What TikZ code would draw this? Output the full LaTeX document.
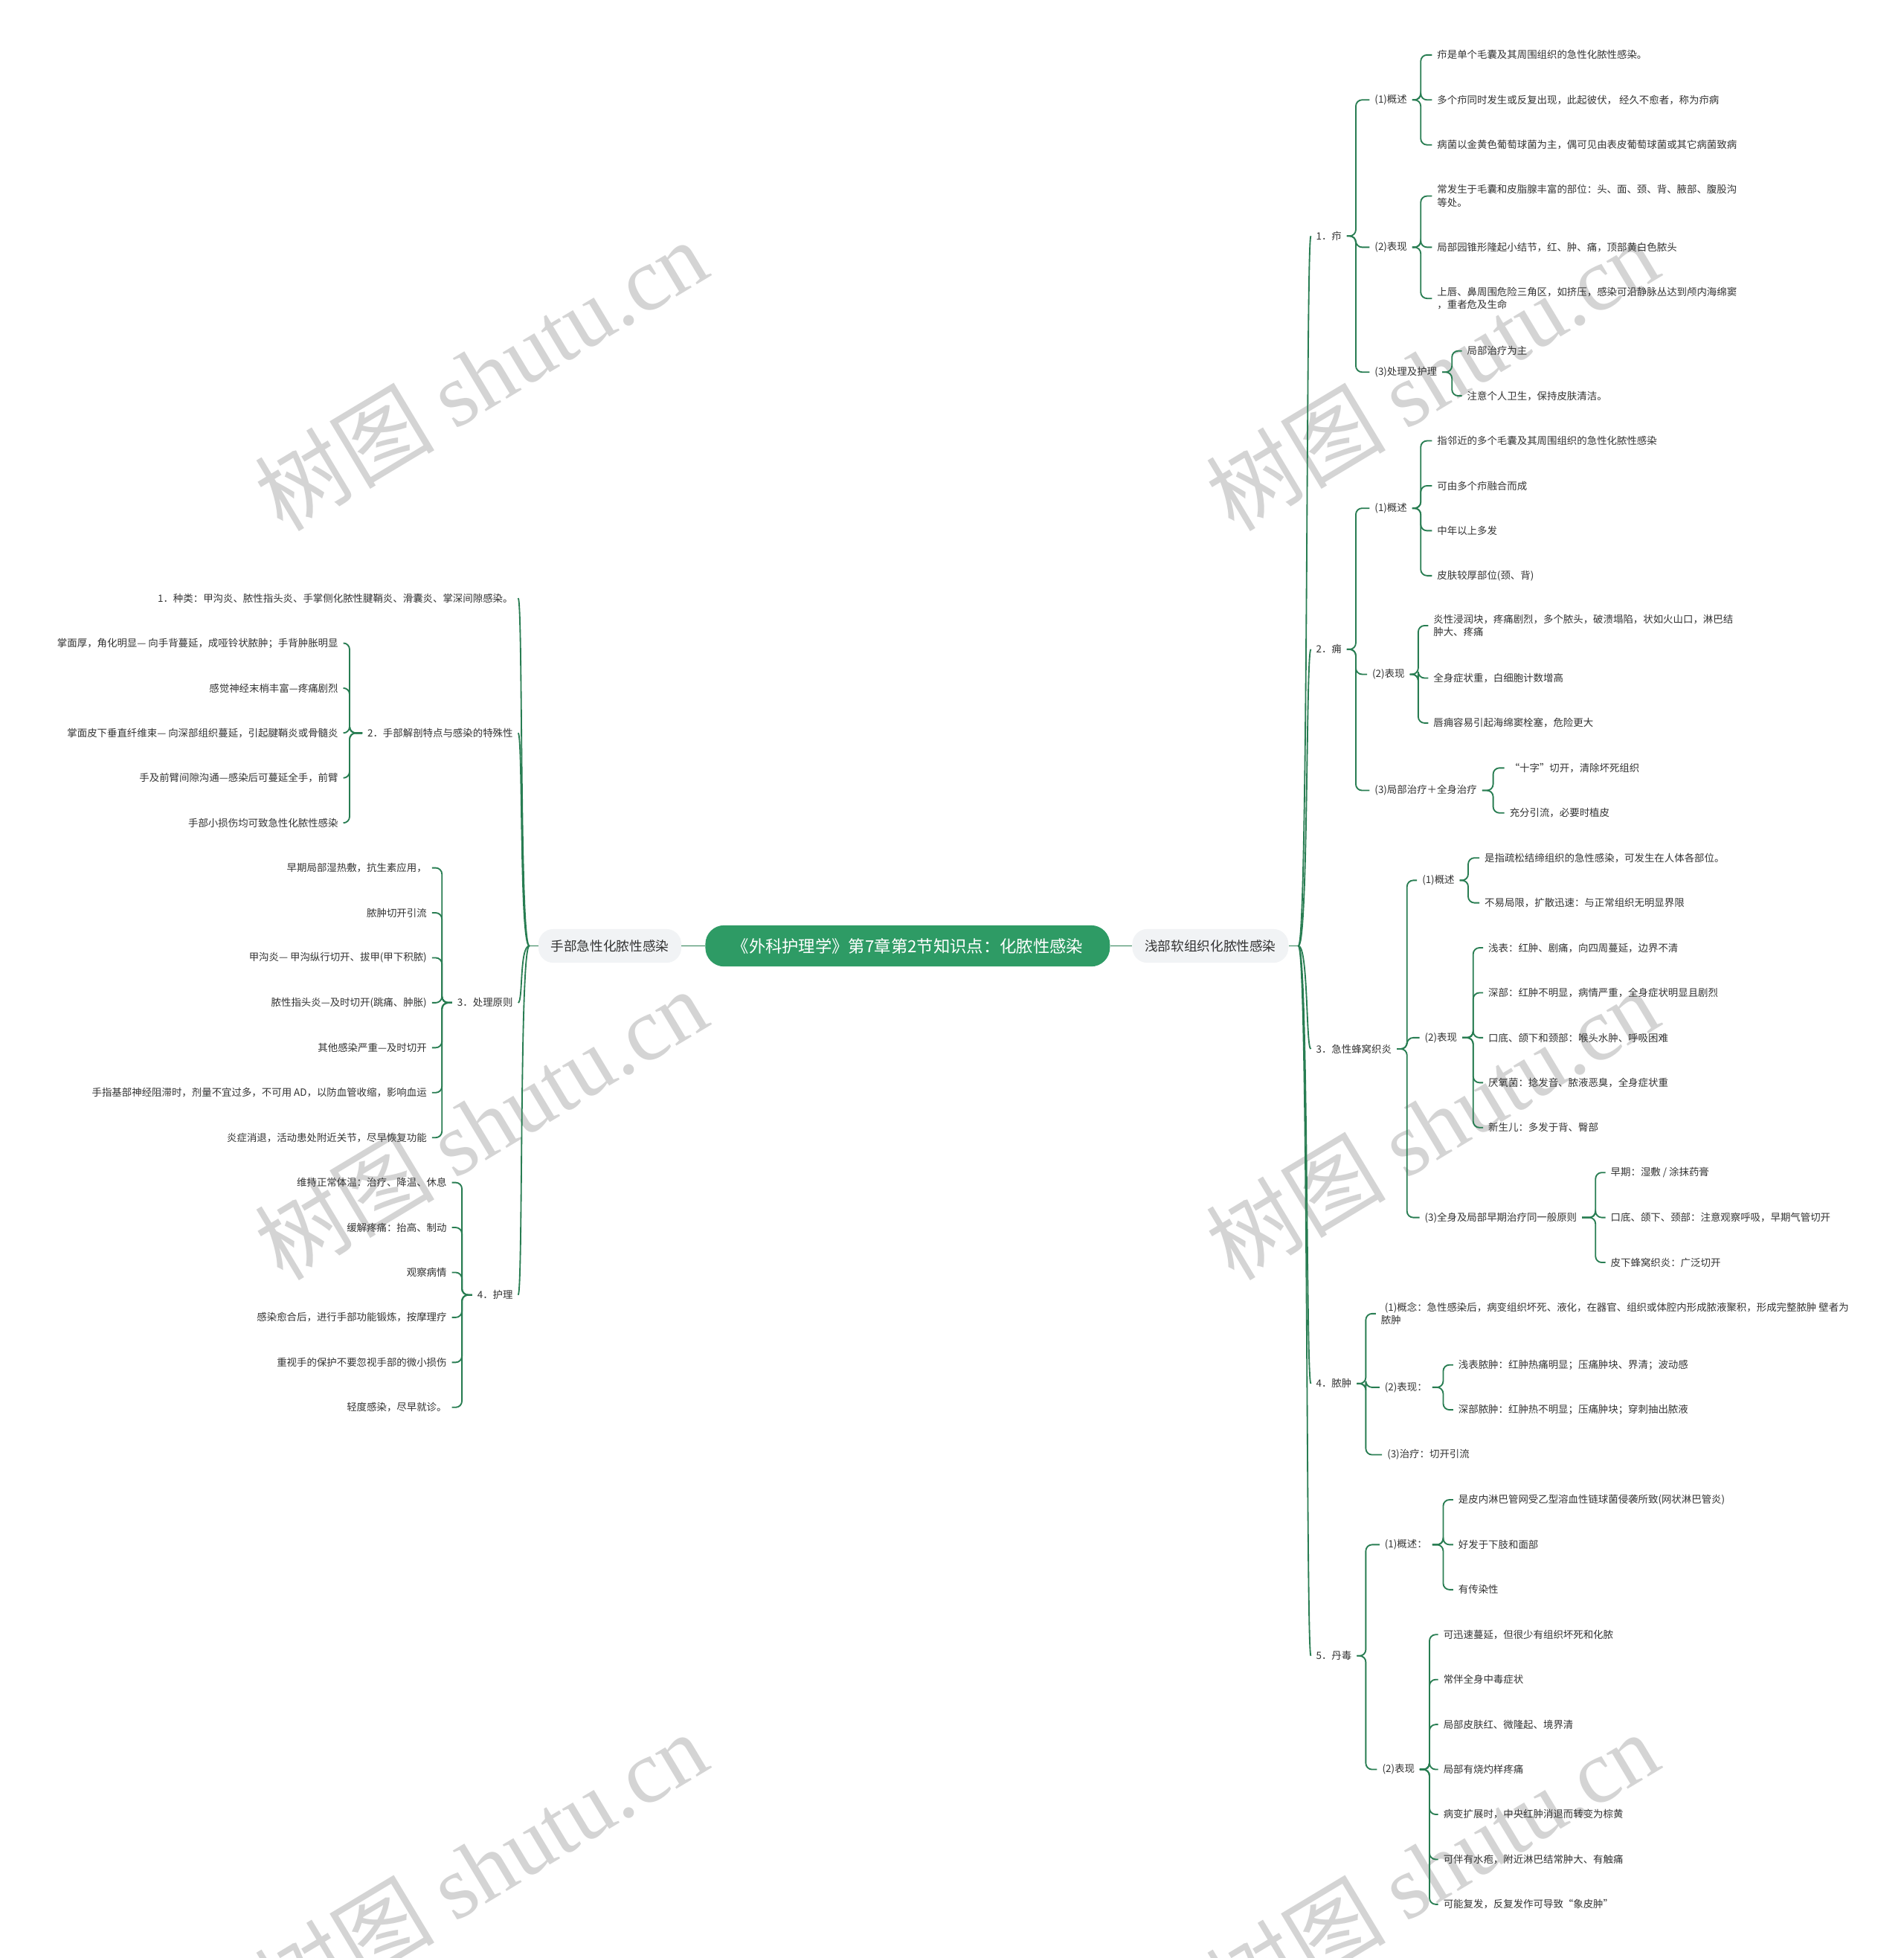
\documentclass[tikz,border=0pt]{standalone}
\usepackage{fontspec}
\setmainfont{Noto Sans CJK SC}
\newfontfamily\wmlatin{Liberation Serif}
\usetikzlibrary{calc}
\definecolor{lineg}{RGB}{40,125,82}
\definecolor{cfill}{RGB}{46,155,101}
\definecolor{mfill}{RGB}{241,243,245}
\definecolor{txt}{RGB}{51,51,51}
\definecolor{wm}{RGB}{212,212,212}
\newcommand\rcurve[1]{\foreach \nn in {#1}{\draw[curv] (rs) .. controls +(8,0) and +(-4,0) .. (\nn.west);}}
\newcommand\lcurve[1]{\foreach \nn in {#1}{\draw[curv] (ls) .. controls +(-8,0) and +(4,0) .. (\nn.east);}}
\newcommand\rbr[3]{\coordinate (sx) at (#2,0);\foreach \nn in {#3}{\draw[conn] (#1.east) -- (#1.east -| sx) |- (\nn.west);}}
\newcommand\lbr[3]{\coordinate (sx) at (#2,0);\foreach \nn in {#3}{\draw[conn] (#1.west) -- (#1.west -| sx) |- (\nn.east);}}
\begin{document}
\begin{tikzpicture}[x=1pt,y=-1pt,
  leaf/.style={font=\fontsize{8}{10.5}\selectfont, text=txt, inner xsep=4pt, inner ysep=1pt},
  rn/.style={leaf, anchor=west, align=left},
  ln/.style={leaf, anchor=east, align=right},
  conn/.style={draw=lineg, line width=1.1pt, rounded corners=5pt},
  curv/.style={draw=lineg, line width=1.1pt},
  mainbox/.style={fill=mfill, rounded corners=12pt, minimum height=27pt, inner xsep=10pt, font=\fontsize{10.5}{12}\selectfont, text=txt},
  centerbox/.style={fill=cfill, rounded corners=15pt, minimum height=33pt, minimum width=324pt, font=\fontsize{13.3}{15}\selectfont, text=white},
  wmark/.style={text=wm, rotate=31, inner sep=0pt, font=\fontsize{72}{72}\selectfont}
]
\fill[white] (0,0) rectangle (1525,1568);
\useasboundingbox (0,0) rectangle (1525,1568);
% watermarks
\node[wmark] (wm1) at (385,300) {树图 {\wmlatin shutu.cn}};
\node[wmark] (wm2) at (385,900) {树图 {\wmlatin shutu.cn}};
\node[wmark] (wm3) at (385,1495) {树图 {\wmlatin shutu.cn}};
\node[wmark] (wm4) at (1147,300) {树图 {\wmlatin shutu.cn}};
\node[wmark] (wm5) at (1147,900) {树图 {\wmlatin shutu.cn}};
\node[wmark] (wm6) at (1147,1495) {树图 {\wmlatin shutu.cn}};
% center and main
\node[centerbox] (C) at (727,757.5) {《外科护理学》第7章第2节知识点：化脓性感染};
\node[mainbox] (R) at (969.5,757.5) {浅部软组织化脓性感染};
\node[mainbox] (L) at (488.5,757.5) {手部急性化脓性感染};
\draw[curv] (C.east) -- (R.west);
\draw[curv] (L.east) -- (C.west);
\coordinate (rs) at (1040,757.5);
\coordinate (ls) at (424,757.5);
\draw[curv] (R.east) -- (rs);
\draw[curv] (L.west) -- (ls);
% ===== right side =====
\node[rn] (r1) at (1050,189) {1．疖};
\node[rn] (r2) at (1050,520) {2．痈};
\node[rn] (r3) at (1050,840) {3．急性蜂窝织炎};
\node[rn] (r4) at (1050,1108) {4．脓肿};
\node[rn] (r5) at (1050,1326) {5．丹毒};
\rcurve{r1,r2,r3,r4,r5}
% r1
\node[rn] (r1a) at (1097,80) {(1)概述};
\node[rn] (r1b) at (1097,198) {(2)表现};
\node[rn] (r1c) at (1097,298) {(3)处理及护理};
\rbr{r1}{1086}{r1a,r1b,r1c}
\node[rn] (r1a1) at (1147,44) {疖是单个毛囊及其周围组织的急性化脓性感染。};
\node[rn] (r1a2) at (1147,80) {多个疖同时发生或反复出现，此起彼伏， 经久不愈者，称为疖病};
\node[rn] (r1a3) at (1147,116) {病菌以金黄色葡萄球菌为主，偶可见由表皮葡萄球菌或其它病菌致病};
\rbr{r1a}{1138}{r1a1,r1a2,r1a3}
\node[rn] (r1b1) at (1147,157) {常发生于毛囊和皮脂腺丰富的部位：头、面、颈、背、腋部、腹股沟\\等处。};
\node[rn] (r1b2) at (1147,198) {局部园锥形隆起小结节，红、肿、痛，顶部黄白色脓头};
\node[rn] (r1b3) at (1147,239) {上唇、鼻周围危险三角区，如挤压，感染可沿静脉丛达到颅内海绵窦\\，重者危及生命};
\rbr{r1b}{1138}{r1b1,r1b2,r1b3}
\node[rn] (r1c1) at (1171,281) {局部治疗为主};
\node[rn] (r1c2) at (1171,317) {注意个人卫生，保持皮肤清洁。};
\rbr{r1c}{1163}{r1c1,r1c2}
% r2
\node[rn] (r2a) at (1097,407) {(1)概述};
\node[rn] (r2b) at (1095,540) {(2)表现};
\node[rn] (r2c) at (1097,633) {(3)局部治疗＋全身治疗};
\rbr{r2}{1086}{r2a,r2b,r2c}
\node[rn] (r2a1) at (1147,353) {指邻近的多个毛囊及其周围组织的急性化脓性感染};
\node[rn] (r2a2) at (1147,389) {可由多个疖融合而成};
\node[rn] (r2a3) at (1147,425) {中年以上多发};
\node[rn] (r2a4) at (1147,461) {皮肤较厚部位(颈、背)};
\rbr{r2a}{1138}{r2a1,r2a2,r2a3,r2a4}
\node[rn] (r2b1) at (1144,501) {炎性浸润块，疼痛剧烈，多个脓头，破溃塌陷，状如火山口，淋巴结\\肿大、疼痛};
\node[rn] (r2b2) at (1144,543) {全身症状重，白细胞计数增高};
\node[rn] (r2b3) at (1144,579) {唇痈容易引起海绵窦栓塞，危险更大};
\rbr{r2b}{1136}{r2b1,r2b2,r2b3}
\node[rn] (r2c1) at (1205,615) {“十字”切开，清除坏死组织};
\node[rn] (r2c2) at (1205,651) {充分引流，必要时植皮};
\rbr{r2c}{1196}{r2c1,r2c2}
% r3
\node[rn] (r3a) at (1135,705) {(1)概述};
\node[rn] (r3b) at (1137,831) {(2)表现};
\node[rn] (r3c) at (1137,975) {(3)全身及局部早期治疗同一般原则};
\rbr{r3}{1127}{r3a,r3b,r3c}
\node[rn] (r3a1) at (1185,687) {是指疏松结缔组织的急性感染，可发生在人体各部位。};
\node[rn] (r3a2) at (1185,723) {不易局限，扩散迅速：与正常组织无明显界限};
\rbr{r3a}{1176}{r3a1,r3a2}
\node[rn] (r3b1) at (1188,759) {浅表：红肿、剧痛，向四周蔓延，边界不清};
\node[rn] (r3b2) at (1188,795) {深部：红肿不明显，病情严重，全身症状明显且剧烈};
\node[rn] (r3b3) at (1188,831) {口底、颌下和颈部：喉头水肿、呼吸困难};
\node[rn] (r3b4) at (1188,867) {厌氧菌：捻发音、脓液恶臭，全身症状重};
\node[rn] (r3b5) at (1188,903) {新生儿：多发于背、臀部};
\rbr{r3b}{1180}{r3b1,r3b2,r3b3,r3b4,r3b5}
\node[rn] (r3c1) at (1286,939) {早期：湿敷 / 涂抹药膏};
\node[rn] (r3c2) at (1286,975) {口底、颌下、颈部：注意观察呼吸，早期气管切开};
\node[rn] (r3c3) at (1286,1011) {皮下蜂窝织炎：广泛切开};
\rbr{r3c}{1278}{r3c1,r3c2,r3c3}
% r4
\node[rn] (r4a) at (1102,1052) {\hspace*{3pt}(1)概念：急性感染后，病变组织坏死、液化，在器官、组织或体腔内形成脓液聚积，形成完整脓肿 壁者为\\脓肿};
\node[rn] (r4b) at (1105,1111) {(2)表现：};
\node[rn] (r4c) at (1107,1165) {(3)治疗：切开引流};
\rbr{r4}{1094}{r4a,r4b,r4c}
\node[rn] (r4b1) at (1164,1093) {浅表脓肿：红肿热痛明显；压痛肿块、界清；波动感};
\node[rn] (r4b2) at (1164,1129) {深部脓肿：红肿热不明显；压痛肿块；穿刺抽出脓液};
\rbr{r4b}{1156}{r4b1,r4b2}
% r5
\node[rn] (r5a) at (1105,1237) {(1)概述：};
\node[rn] (r5b) at (1103,1417) {(2)表现};
\rbr{r5}{1094}{r5a,r5b}
\node[rn] (r5a1) at (1164,1201) {是皮内淋巴管网受乙型溶血性链球菌侵袭所致(网状淋巴管炎)};
\node[rn] (r5a2) at (1164,1237) {好发于下肢和面部};
\node[rn] (r5a3) at (1164,1273) {有传染性};
\rbr{r5a}{1156}{r5a1,r5a2,r5a3}
\node[rn] (r5b1) at (1152,1309) {可迅速蔓延，但很少有组织坏死和化脓};
\node[rn] (r5b2) at (1152,1345) {常伴全身中毒症状};
\node[rn] (r5b3) at (1152,1381) {局部皮肤红、微隆起、境界清};
\node[rn] (r5b4) at (1152,1417) {局部有烧灼样疼痛};
\node[rn] (r5b5) at (1152,1453) {病变扩展时，中央红肿消退而转变为棕黄};
\node[rn] (r5b6) at (1152,1489) {可伴有水疱，附近淋巴结常肿大、有触痛};
\node[rn] (r5b7) at (1152,1525) {可能复发，反复发作可导致“象皮肿”};
\rbr{r5b}{1145}{r5b1,r5b2,r5b3,r5b4,r5b5,r5b6,r5b7}
% ===== left side =====
\node[ln] (l1) at (415,479) {1．种类：甲沟炎、脓性指头炎、手掌侧化脓性腱鞘炎、滑囊炎、掌深间隙感染。};
\node[ln] (l2) at (415,587) {2．手部解剖特点与感染的特殊性};
\node[ln] (l3) at (415,803) {3．处理原则};
\node[ln] (l4) at (415,1037) {4．护理};
\lcurve{l1,l2,l3,l4}
\node[ln] (l2a) at (275,515) {掌面厚，角化明显— 向手背蔓延，成哑铃状脓肿；手背肿胀明显};
\node[ln] (l2b) at (275,551) {感觉神经末梢丰富—疼痛剧烈};
\node[ln] (l2c) at (275,587) {掌面皮下垂直纤维束— 向深部组织蔓延，引起腱鞘炎或骨髓炎};
\node[ln] (l2d) at (275,623) {手及前臂间隙沟通—感染后可蔓延全手，前臂};
\node[ln] (l2e) at (275,659) {手部小损伤均可致急性化脓性感染};
\lbr{l2}{280}{l2a,l2b,l2c,l2d,l2e}
\node[ln] (l3a) at (346,695) {早期局部湿热敷，抗生素应用，};
\node[ln] (l3b) at (346,731) {脓肿切开引流};
\node[ln] (l3c) at (346,767) {甲沟炎— 甲沟纵行切开、拔甲(甲下积脓)};
\node[ln] (l3d) at (346,803) {脓性指头炎—及时切开(跳痛、肿胀)};
\node[ln] (l3e) at (346,839) {其他感染严重—及时切开};
\node[ln] (l3f) at (346,875) {手指基部神经阻滞时，剂量不宜过多，不可用 AD，以防血管收缩，影响血运};
\node[ln] (l3g) at (346,911) {炎症消退，活动患处附近关节，尽早恢复功能};
\lbr{l3}{354}{l3a,l3b,l3c,l3d,l3e,l3f,l3g}
\node[ln] (l4a) at (362,947) {维持正常体温：治疗、降温、休息};
\node[ln] (l4b) at (362,983) {缓解疼痛：抬高、制动};
\node[ln] (l4c) at (362,1019) {观察病情};
\node[ln] (l4d) at (362,1055) {感染愈合后，进行手部功能锻炼，按摩理疗};
\node[ln] (l4e) at (362,1091) {重视手的保护不要忽视手部的微小损伤};
\node[ln] (l4f) at (362,1127) {轻度感染，尽早就诊。};
\lbr{l4}{370}{l4a,l4b,l4c,l4d,l4e,l4f}
\end{tikzpicture}
\end{document}
